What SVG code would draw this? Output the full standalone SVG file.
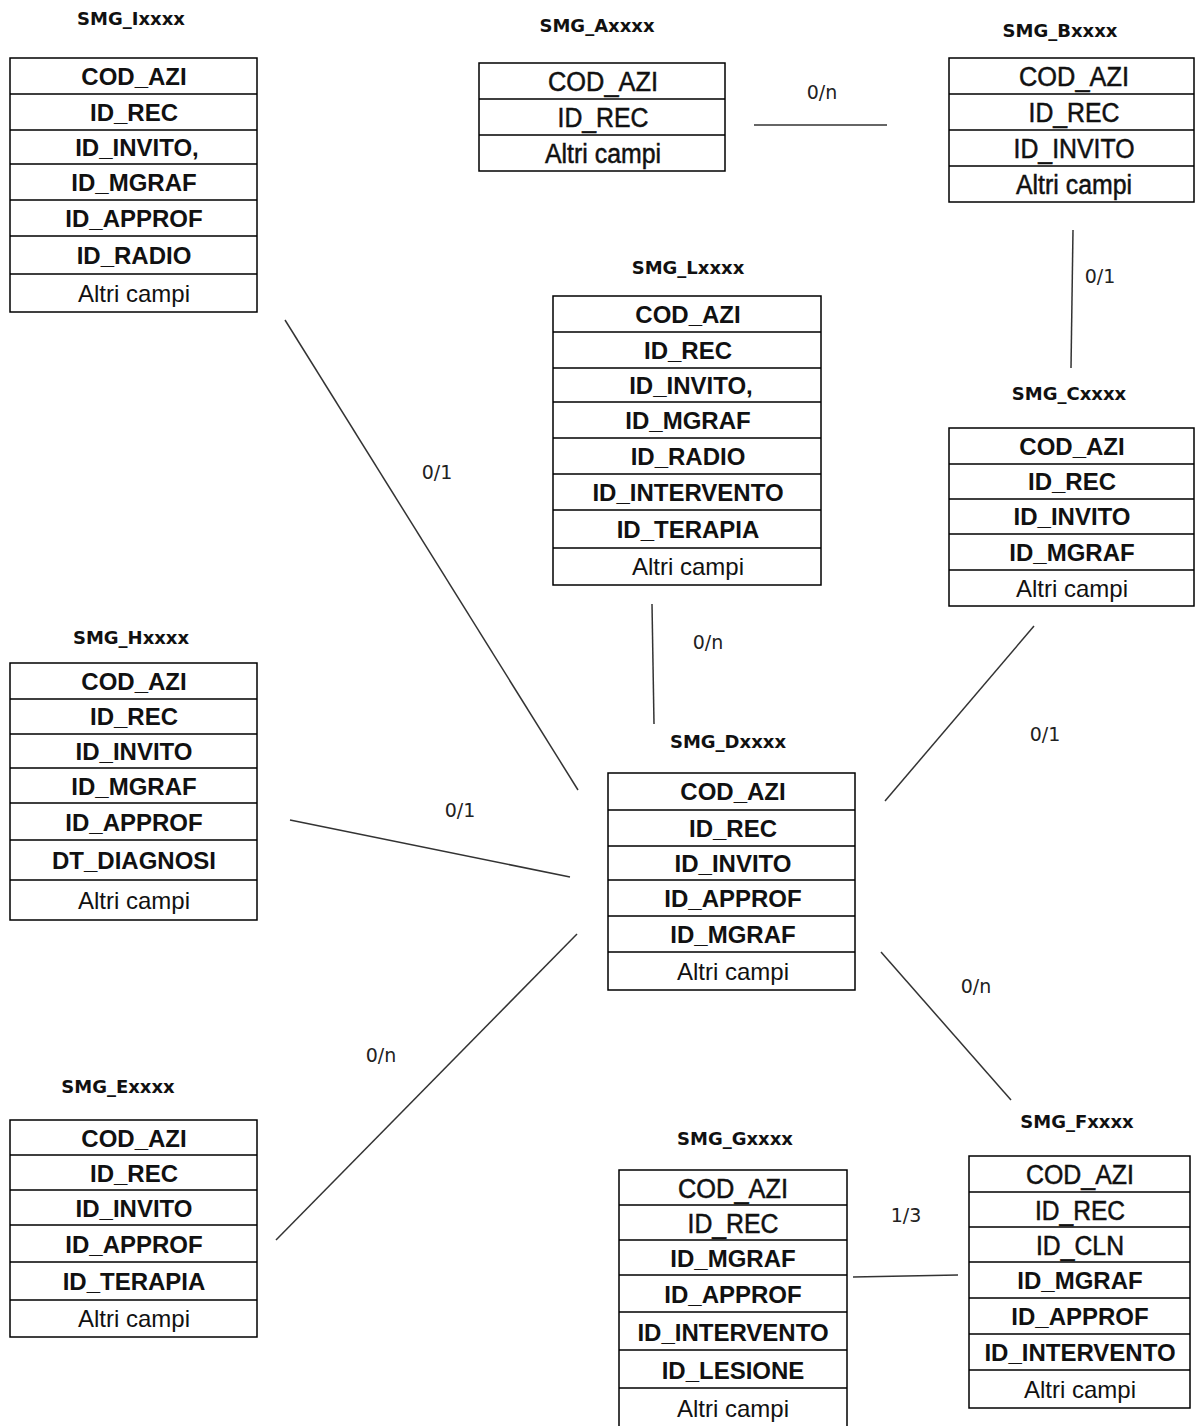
<svg xmlns="http://www.w3.org/2000/svg" width="1195" height="1426" viewBox="0 0 1195 1426">
<style>
.bx{fill:#fff;stroke:#000;stroke-width:1.5}
.sep{stroke:#000;stroke-width:1.5}
.f{font-family:"Liberation Sans",Arial,sans-serif;font-size:24px;font-weight:bold;text-anchor:middle;fill:#111}
.n{font-family:"Liberation Sans",Arial,sans-serif;font-size:27px;text-anchor:middle;fill:#111;stroke:#111;stroke-width:0.5}
.o{font-family:"Liberation Sans",Arial,sans-serif;font-size:24px;text-anchor:middle;fill:#111}
.t{font-family:"DejaVu Sans","Liberation Sans",sans-serif;font-size:18px;font-weight:bold;text-anchor:middle;fill:#111}
.lb{font-family:"DejaVu Sans","Liberation Sans",sans-serif;font-size:19px;text-anchor:middle;fill:#222}
.cn{stroke:#333;stroke-width:1.5;fill:none}
</style>
<rect width="1195" height="1426" fill="#fff"/>
<g id="connectors">
<line class="cn" x1="754" y1="125" x2="887" y2="125"/>
<line class="cn" x1="1073" y1="230" x2="1071" y2="368"/>
<line class="cn" x1="285" y1="320" x2="578" y2="790"/>
<line class="cn" x1="652" y1="604" x2="654" y2="724"/>
<line class="cn" x1="1034" y1="626" x2="885" y2="801"/>
<line class="cn" x1="290" y1="820" x2="570" y2="877"/>
<line class="cn" x1="276" y1="1240" x2="577" y2="934"/>
<line class="cn" x1="881" y1="952" x2="1011" y2="1100"/>
<line class="cn" x1="853" y1="1277" x2="958" y2="1275"/>
<text class="lb" x="822" y="99">0/n</text>
<text class="lb" x="1100" y="283">0/1</text>
<text class="lb" x="437" y="479">0/1</text>
<text class="lb" x="708" y="649">0/n</text>
<text class="lb" x="1045" y="741">0/1</text>
<text class="lb" x="460" y="817">0/1</text>
<text class="lb" x="381" y="1062">0/n</text>
<text class="lb" x="976" y="993">0/n</text>
<text class="lb" x="906" y="1222">1/3</text>
</g>
<g id="SMG_Ixxxx">
<text class="t" x="131" y="25">SMG_Ixxxx</text>
<rect class="bx" x="10" y="58" width="247" height="254"/>
<path class="sep" d="M10 94H257M10 130H257M10 164H257M10 200H257M10 236H257M10 274H257"/>
<text class="f" x="134" y="85">COD_AZI</text>
<text class="f" x="134" y="121">ID_REC</text>
<text class="f" x="137" y="156">ID_INVITO,</text>
<text class="f" x="134" y="191">ID_MGRAF</text>
<text class="f" x="134" y="227">ID_APPROF</text>
<text class="f" x="134" y="264">ID_RADIO</text>
<text class="o" x="134" y="302">Altri campi</text>
</g>
<g id="SMG_Axxxx">
<text class="t" x="597" y="32">SMG_Axxxx</text>
<rect class="bx" x="479" y="63" width="246" height="108"/>
<path class="sep" d="M479 99H725M479 135H725"/>
<text class="n" x="603" y="91" textLength="110" lengthAdjust="spacingAndGlyphs">COD_AZI</text>
<text class="n" x="603" y="127" textLength="91" lengthAdjust="spacingAndGlyphs">ID_REC</text>
<text class="n" x="603" y="163" textLength="116" lengthAdjust="spacingAndGlyphs">Altri campi</text>
</g>
<g id="SMG_Bxxxx">
<text class="t" x="1060" y="37">SMG_Bxxxx</text>
<rect class="bx" x="949" y="58" width="245" height="144"/>
<path class="sep" d="M949 94H1194M949 130H1194M949 166H1194"/>
<text class="n" x="1074" y="86" textLength="110" lengthAdjust="spacingAndGlyphs">COD_AZI</text>
<text class="n" x="1074" y="122" textLength="91" lengthAdjust="spacingAndGlyphs">ID_REC</text>
<text class="n" x="1074" y="158" textLength="121" lengthAdjust="spacingAndGlyphs">ID_INVITO</text>
<text class="n" x="1074" y="194" textLength="116" lengthAdjust="spacingAndGlyphs">Altri campi</text>
</g>
<g id="SMG_Lxxxx">
<text class="t" x="688" y="274">SMG_Lxxxx</text>
<rect class="bx" x="553" y="296" width="268" height="289"/>
<path class="sep" d="M553 332H821M553 368H821M553 402H821M553 438H821M553 474H821M553 510H821M553 548H821"/>
<text class="f" x="688" y="323">COD_AZI</text>
<text class="f" x="688" y="359">ID_REC</text>
<text class="f" x="691" y="394">ID_INVITO,</text>
<text class="f" x="688" y="429">ID_MGRAF</text>
<text class="f" x="688" y="465">ID_RADIO</text>
<text class="f" x="688" y="501">ID_INTERVENTO</text>
<text class="f" x="688" y="538">ID_TERAPIA</text>
<text class="o" x="688" y="575">Altri campi</text>
</g>
<g id="SMG_Cxxxx">
<text class="t" x="1069" y="400">SMG_Cxxxx</text>
<rect class="bx" x="949" y="428" width="245" height="178"/>
<path class="sep" d="M949 464H1194M949 499H1194M949 534H1194M949 570H1194"/>
<text class="f" x="1072" y="455">COD_AZI</text>
<text class="f" x="1072" y="490">ID_REC</text>
<text class="f" x="1072" y="525">ID_INVITO</text>
<text class="f" x="1072" y="561">ID_MGRAF</text>
<text class="o" x="1072" y="597">Altri campi</text>
</g>
<g id="SMG_Hxxxx">
<text class="t" x="131" y="644">SMG_Hxxxx</text>
<rect class="bx" x="10" y="663" width="247" height="257"/>
<path class="sep" d="M10 699H257M10 734H257M10 768H257M10 803H257M10 840H257M10 880H257"/>
<text class="f" x="134" y="690">COD_AZI</text>
<text class="f" x="134" y="725">ID_REC</text>
<text class="f" x="134" y="760">ID_INVITO</text>
<text class="f" x="134" y="795">ID_MGRAF</text>
<text class="f" x="134" y="831">ID_APPROF</text>
<text class="f" x="134" y="869">DT_DIAGNOSI</text>
<text class="o" x="134" y="909">Altri campi</text>
</g>
<g id="SMG_Dxxxx">
<text class="t" x="728" y="748">SMG_Dxxxx</text>
<rect class="bx" x="608" y="773" width="247" height="217"/>
<path class="sep" d="M608 810H855M608 846H855M608 880H855M608 916H855M608 952H855"/>
<text class="f" x="733" y="800">COD_AZI</text>
<text class="f" x="733" y="837">ID_REC</text>
<text class="f" x="733" y="872">ID_INVITO</text>
<text class="f" x="733" y="907">ID_APPROF</text>
<text class="f" x="733" y="943">ID_MGRAF</text>
<text class="o" x="733" y="980">Altri campi</text>
</g>
<g id="SMG_Exxxx">
<text class="t" x="118" y="1093">SMG_Exxxx</text>
<rect class="bx" x="10" y="1120" width="247" height="217"/>
<path class="sep" d="M10 1155H257M10 1190H257M10 1225H257M10 1262H257M10 1300H257"/>
<text class="f" x="134" y="1147">COD_AZI</text>
<text class="f" x="134" y="1182">ID_REC</text>
<text class="f" x="134" y="1217">ID_INVITO</text>
<text class="f" x="134" y="1253">ID_APPROF</text>
<text class="f" x="134" y="1290">ID_TERAPIA</text>
<text class="o" x="134" y="1327">Altri campi</text>
</g>
<g id="SMG_Gxxxx">
<text class="t" x="735" y="1145">SMG_Gxxxx</text>
<rect class="bx" x="619" y="1170" width="228" height="258"/>
<path class="sep" d="M619 1205H847M619 1240H847M619 1275H847M619 1312H847M619 1350H847M619 1388H847"/>
<text class="n" x="733" y="1198" textLength="110" lengthAdjust="spacingAndGlyphs">COD_AZI</text>
<text class="n" x="733" y="1233" textLength="91" lengthAdjust="spacingAndGlyphs">ID_REC</text>
<text class="f" x="733" y="1267">ID_MGRAF</text>
<text class="f" x="733" y="1303">ID_APPROF</text>
<text class="f" x="733" y="1341">ID_INTERVENTO</text>
<text class="f" x="733" y="1379">ID_LESIONE</text>
<text class="o" x="733" y="1417">Altri campi</text>
</g>
<g id="SMG_Fxxxx">
<text class="t" x="1077" y="1128">SMG_Fxxxx</text>
<rect class="bx" x="969" y="1156" width="221" height="252"/>
<path class="sep" d="M969 1192H1190M969 1227H1190M969 1262H1190M969 1298H1190M969 1334H1190M969 1370H1190"/>
<text class="n" x="1080" y="1184" textLength="108" lengthAdjust="spacingAndGlyphs">COD_AZI</text>
<text class="n" x="1080" y="1220" textLength="90" lengthAdjust="spacingAndGlyphs">ID_REC</text>
<text class="n" x="1080" y="1255" textLength="88" lengthAdjust="spacingAndGlyphs">ID_CLN</text>
<text class="f" x="1080" y="1289">ID_MGRAF</text>
<text class="f" x="1080" y="1325">ID_APPROF</text>
<text class="f" x="1080" y="1361">ID_INTERVENTO</text>
<text class="o" x="1080" y="1398">Altri campi</text>
</g>
</svg>
